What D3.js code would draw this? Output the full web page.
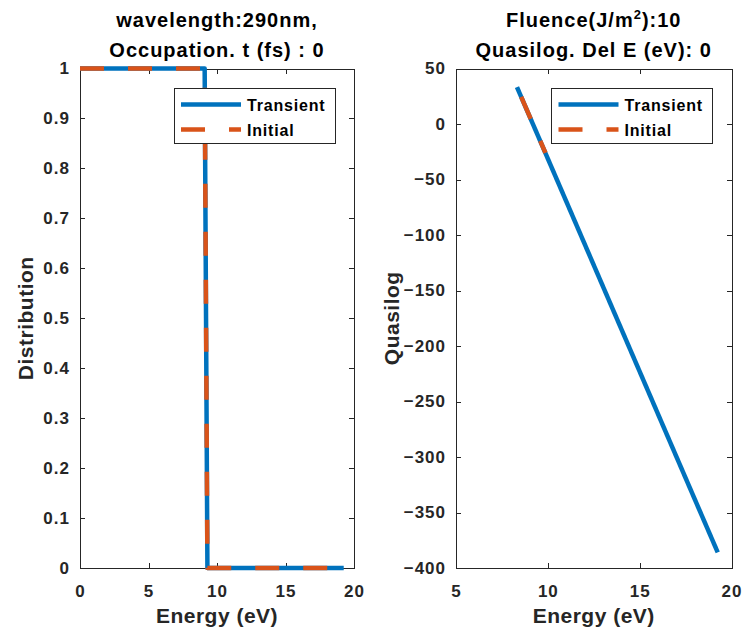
<html>
<head>
    <title>Occupation and Quasilog</title>
    <meta charset="utf-8" />
    <style>
body {
    margin: 0;
    padding: 0;
    background: #fff;
}

svg {
    display: block;
    font-family: 'Liberation Sans', Arial, sans-serif;
    font-weight: bold;
}

.axis path, .axis line {
    fill: none;
    stroke: #262626;
    stroke-width: 1;
    shape-rendering: crispEdges;
}

.axis text {
    fill: #262626;
    font-family: 'Liberation Sans', Arial, sans-serif;
    font-weight: bold;
    font-size: 17px;
    letter-spacing: 1px;
}

.title {
    fill: #000;
    font-size: 20px;
    letter-spacing: 1px;
    text-anchor: middle;
}

.label {
    fill: #262626;
    font-size: 21px;
    letter-spacing: 0.5px;
    text-anchor: middle;
}

.legend text {
    fill: #000;
    font-size: 16px;
    letter-spacing: 0.8px;
}

.line {
    fill: none;
    stroke-width: 4.5;
    stroke-linejoin: round;
}
    </style>
    <script src="https://d3js.org/d3.v7.min.js"></script>
</head>
<body>
<script>
// occupation (left panel)
var occEnergy = [0, 9.1, 9.2, 9.3, 19.25];
var occTransient = [1, 1, 0.5, 0, 0];
var occInitial = [1, 1, 0.5, 0, 0];
var occXTicks = [0, 5, 10, 15, 20];
var occYTicks = [0, 0.1, 0.2, 0.3, 0.4, 0.5, 0.6, 0.7, 0.8, 0.9, 1];

// quasilog (right panel)
var qlTransientEnergy = [8.32, 19.25];
var qlTransient = [33.2, -386];
var qlInitialEnergy = [8.55, 9.87];
var qlInitial = [24.5, -26];
var qlXTicks = [5, 10, 15, 20];
var qlYTicks = [-400, -350, -300, -250, -200, -150, -100, -50, 0, 50];

var seriesNames = ["Transient", "Initial"];
var blue = "#0072BD", orange = "#D95319";

var W = 746, H = 634;
var svg = d3.select("body").append("svg").attr("width", W).attr("height", H);

function pairs(xs, ys) {
    return xs.map(function (x, i) { return [x, ys[i]]; });
}

function panel(opt) {
    var x = d3.scaleLinear().domain(opt.xDomain).range([opt.left, opt.right]);
    var y = d3.scaleLinear().domain(opt.yDomain).range([opt.bottom, opt.top]);
    var g = svg.append("g");

    var line = d3.line()
        .x(function (d) { return x(d[0]); })
        .y(function (d) { return y(d[1]); });

    // axes, ticks pointing inward, mirrored on top/right
    g.append("g").attr("class", "axis")
        .attr("transform", "translate(0," + opt.bottom + ")")
        .call(d3.axisBottom(x).tickValues(opt.xTicks).tickSizeInner(-5).tickSizeOuter(0).tickPadding(17).tickFormat(d3.format("")));
    g.append("g").attr("class", "axis")
        .attr("transform", "translate(0," + opt.top + ")")
        .call(d3.axisTop(x).tickValues(opt.xTicks).tickSizeInner(-5).tickSizeOuter(0).tickFormat(""));
    g.append("g").attr("class", "axis")
        .attr("transform", "translate(" + opt.left + ",0)")
        .call(d3.axisLeft(y).tickValues(opt.yTicks).tickSizeInner(-5).tickSizeOuter(0).tickPadding(10).tickFormat(d3.format("")));
    g.append("g").attr("class", "axis")
        .attr("transform", "translate(" + opt.right + ",0)")
        .call(d3.axisRight(y).tickValues(opt.yTicks).tickSizeInner(-5).tickSizeOuter(0).tickFormat(""));

    g.append("path").datum(opt.transient).attr("class", "line")
        .attr("stroke", blue).attr("d", line);
    g.append("path").datum(opt.initial).attr("class", "line")
        .attr("stroke", orange).attr("stroke-dasharray", "24,24").attr("d", line);

    // titles
    var cx = (opt.left + opt.right) / 2;
    var t1 = g.append("text").attr("class", "title").attr("x", cx).attr("y", 27);
    opt.title1(t1);
    g.append("text").attr("class", "title").attr("x", cx).attr("y", 57).text(opt.title2);

    g.append("text").attr("class", "label")
        .attr("x", cx).attr("y", 623).text("Energy (eV)");
    g.append("text").attr("class", "label")
        .attr("transform", "translate(" + (opt.left - opt.yLabelGap) + "," + ((opt.top + opt.bottom) / 2) + ") rotate(-90)")
        .text(opt.yLabel);

    // legend
    var lg = g.append("g").attr("class", "legend")
        .attr("transform", "translate(" + (opt.right - 180) + "," + (opt.top + 20) + ")");
    lg.append("rect").attr("width", 161).attr("height", 55)
        .attr("fill", "#fff").attr("stroke", "#262626").attr("stroke-width", 1)
        .attr("shape-rendering", "crispEdges");
    seriesNames.forEach(function (name, i) {
        var yy = 16 + i * 25;
        var s = lg.append("line").attr("x1", 7).attr("x2", 67).attr("y1", yy).attr("y2", yy)
            .attr("stroke", i === 0 ? blue : orange).attr("stroke-width", 4.5);
        if (i === 1) s.attr("stroke-dasharray", "24,24");
        lg.append("text").attr("x", 73).attr("y", yy + 6).text(name);
    });
}

panel({
    left: 80, right: 354, top: 68.5, bottom: 568,
    xDomain: [0, 20], yDomain: [0, 1],
    xTicks: occXTicks, yTicks: occYTicks,
    transient: pairs(occEnergy, occTransient),
    initial: pairs(occEnergy, occInitial),
    title1: function (t) { t.text("wavelength:290nm,"); },
    title2: "Occupation. t (fs) : 0",
    yLabel: "Distribution",
    yLabelGap: 47
});

panel({
    left: 456, right: 731.5, top: 68.5, bottom: 568,
    xDomain: [5, 20], yDomain: [-400, 50],
    xTicks: qlXTicks, yTicks: qlYTicks,
    transient: pairs(qlTransientEnergy, qlTransient),
    initial: pairs(qlInitialEnergy, qlInitial),
    title1: function (t) {
        t.append("tspan").text("Fluence(J/m");
        t.append("tspan").attr("dy", -8).attr("font-size", "13px").text("2");
        t.append("tspan").attr("dy", 8).text("):10");
    },
    title2: "Quasilog. Del E (eV): 0",
    yLabel: "Quasilog",
    yLabelGap: 57
});
</script>
</body>
</html>
